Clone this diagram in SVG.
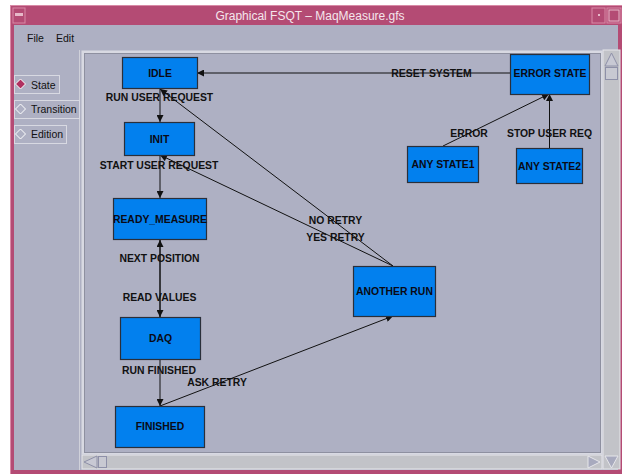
<svg xmlns="http://www.w3.org/2000/svg" width="624" height="474" viewBox="0 0 624 474">
<defs>
<style>
.node rect{fill:#0280EE;stroke:#2a2f3a;stroke-width:1.2}
.node text{font-family:"Liberation Sans",Arial,sans-serif;font-weight:bold;font-size:10.4px;fill:#0a0a14;text-anchor:middle}
.edge{stroke:#111;stroke-width:1;fill:none}
.lbl{font-family:"Liberation Sans",Arial,sans-serif;font-weight:bold;font-size:10.4px;fill:#111;text-anchor:middle}
.ui{font-family:"Liberation Sans",Arial,sans-serif;font-size:10.5px;fill:#111}
.btn{fill:#AEB0C3;stroke:#D8D9E2;stroke-width:1}
</style>
<marker id="ah" viewBox="0 0 10 10" refX="10" refY="5" markerWidth="9" markerHeight="7" markerUnits="userSpaceOnUse" orient="auto">
<path d="M0,0 L10,5 L0,10 z" fill="#111"/>
</marker>
</defs>
<!-- window frame -->
<rect x="0" y="0" width="624" height="474" fill="#ffffff"/>
<rect x="10" y="5" width="612" height="469" fill="#B44B74"/>
<rect x="14" y="25" width="604" height="445" fill="#AEB0C3"/>
<line x1="10.5" y1="5" x2="10.5" y2="474" stroke="#D88AA6"/>
<line x1="10" y1="5.5" x2="622" y2="5.5" stroke="#D88AA6"/>
<rect x="13" y="8" width="12" height="15" fill="#B44B74" stroke="#D88AA6"/>
<rect x="15" y="13" width="8" height="3" fill="#E7B9C9"/>
<rect x="592" y="8" width="13" height="15" fill="#B44B74" stroke="#D88AA6"/>
<rect x="598" y="14" width="2" height="2" fill="#E7B9C9"/>
<rect x="607" y="8" width="14" height="15" fill="#B44B74" stroke="#D88AA6"/>
<rect x="609" y="10" width="10" height="11" fill="none" stroke="#E7B9C9"/>
<text x="310" y="20" font-family="'Liberation Sans',Arial,sans-serif" font-size="12" fill="#F4E6EC" text-anchor="middle">Graphical FSQT – MaqMeasure.gfs</text>
<!-- menu -->
<text class="ui" x="27" y="42">File</text>
<text class="ui" x="56" y="42">Edit</text>
<!-- left panel -->
<line x1="79.5" y1="50" x2="79.5" y2="470" stroke="#D0D1DA"/>
<rect class="btn" x="14.5" y="75.5" width="45" height="18"/>
<path d="M20.5,79 L25.5,84 L20.5,89 L15.5,84 z" fill="#B03060" stroke="#ffffff" stroke-width="1"/>
<text class="ui" x="31" y="89">State</text>
<rect class="btn" x="14.5" y="100.5" width="65" height="18"/>
<path d="M20.5,104 L25.5,109 L20.5,114 L15.5,109 z" fill="#AEB0C3" stroke="#ffffff" stroke-width="1"/>
<text class="ui" x="31" y="113">Transition</text>
<rect class="btn" x="14.5" y="125.5" width="52" height="18"/>
<path d="M20.5,129 L25.5,134 L20.5,139 L15.5,134 z" fill="#AEB0C3" stroke="#ffffff" stroke-width="1"/>
<text class="ui" x="31" y="138">Edition</text>
<!-- canvas -->
<rect x="81.5" y="50.5" width="521" height="404" fill="#D8D9E2"/>
<rect x="84.5" y="53.5" width="516" height="399" fill="#AEB0C3" stroke="#8E90A0"/>
<!-- scrollbars -->
<rect x="603" y="50" width="17" height="419" fill="#C2C3C8" stroke="#E6E6EA"/>
<path d="M605,66 L611.5,53 L618,66 z" fill="#C8C9D4" stroke="#8E90A8"/>
<rect x="605.5" y="67.5" width="12" height="12" fill="#C8C9D2" stroke="#8E90A8"/>
<path d="M605,456 L611.5,468 L618,456 z" fill="#A8AABE" stroke="#E6E6EA"/>
<rect x="82" y="455" width="520" height="14" fill="#C2C3C8" stroke="#E6E6EA"/>
<path d="M97,456 L84,462 L97,468 z" fill="#C8C9D4" stroke="#8E90A8"/>
<rect x="98.5" y="456.5" width="8" height="11" fill="#C8C9D2" stroke="#8E90A8"/>
<path d="M588,456 L600,462 L588,468 z" fill="#A8AABE" stroke="#E6E6EA"/>
<!-- connectors -->
<g id="connectors">
<line class="edge" x1="510" y1="73" x2="197" y2="73" marker-end="url(#ah)"/>
<line class="edge" x1="160" y1="89" x2="160" y2="122" marker-end="url(#ah)"/>
<line class="edge" x1="160" y1="155" x2="160" y2="198" marker-end="url(#ah)"/>
<line class="edge" x1="160" y1="317" x2="160" y2="240" marker-end="url(#ah)"/>
<line class="edge" x1="160" y1="240" x2="160" y2="317" marker-end="url(#ah)"/>
<line class="edge" x1="160" y1="360" x2="160" y2="406" marker-end="url(#ah)"/>
<line class="edge" x1="160" y1="406" x2="393" y2="316" marker-end="url(#ah)"/>
<line class="edge" x1="393" y1="266" x2="160" y2="89" marker-end="url(#ah)"/>
<line class="edge" x1="393" y1="266" x2="160" y2="155" marker-end="url(#ah)"/>
<line class="edge" x1="443" y1="146" x2="549" y2="94" marker-end="url(#ah)"/>
<line class="edge" x1="549.5" y1="148" x2="549.5" y2="94" marker-end="url(#ah)"/>
<text class="lbl" x="431.5" y="77">RESET SYSTEM</text>
<text class="lbl" x="159.5" y="100.5">RUN USER REQUEST</text>
<text class="lbl" x="159" y="169">START USER REQUEST</text>
<text class="lbl" x="159.5" y="262">NEXT POSITION</text>
<text class="lbl" x="159.5" y="300.5">READ VALUES</text>
<text class="lbl" x="159" y="374">RUN FINISHED</text>
<text class="lbl" x="217" y="386">ASK RETRY</text>
<text class="lbl" x="335.5" y="224">NO RETRY</text>
<text class="lbl" x="335.5" y="240.5">YES RETRY</text>
<text class="lbl" x="469" y="136.5">ERROR</text>
<text class="lbl" x="549.5" y="137">STOP USER REQ</text>
</g>
<!-- nodes -->
<g id="idle" class="node"><rect x="122.5" y="57.5" width="75" height="31"/><text x="160" y="76.5">IDLE</text></g>
<g id="init" class="node"><rect x="124.5" y="122.5" width="70" height="33"/><text x="159.5" y="142.5">INIT</text></g>
<g id="ready_measure" class="node"><rect x="113.5" y="198.5" width="93" height="41"/><text x="160" y="222.5">READY_MEASURE</text></g>
<g id="daq" class="node"><rect x="120.5" y="317.5" width="80" height="42"/><text x="160.5" y="341.5">DAQ</text></g>
<g id="finished" class="node"><rect x="115.5" y="406.5" width="89" height="41"/><text x="160" y="430">FINISHED</text></g>
<g id="another_run" class="node"><rect x="353.5" y="266.5" width="82" height="50"/><text x="394.5" y="294.5">ANOTHER RUN</text></g>
<g id="error_state" class="node"><rect x="510.5" y="54.5" width="79" height="40"/><text x="550" y="77">ERROR STATE</text></g>
<g id="any_state1" class="node"><rect x="407.5" y="146.5" width="71" height="36"/><text x="443" y="168">ANY STATE1</text></g>
<g id="any_state2" class="node"><rect x="516.5" y="148.5" width="66" height="35"/><text x="549.5" y="169.5">ANY STATE2</text></g>
</svg>
